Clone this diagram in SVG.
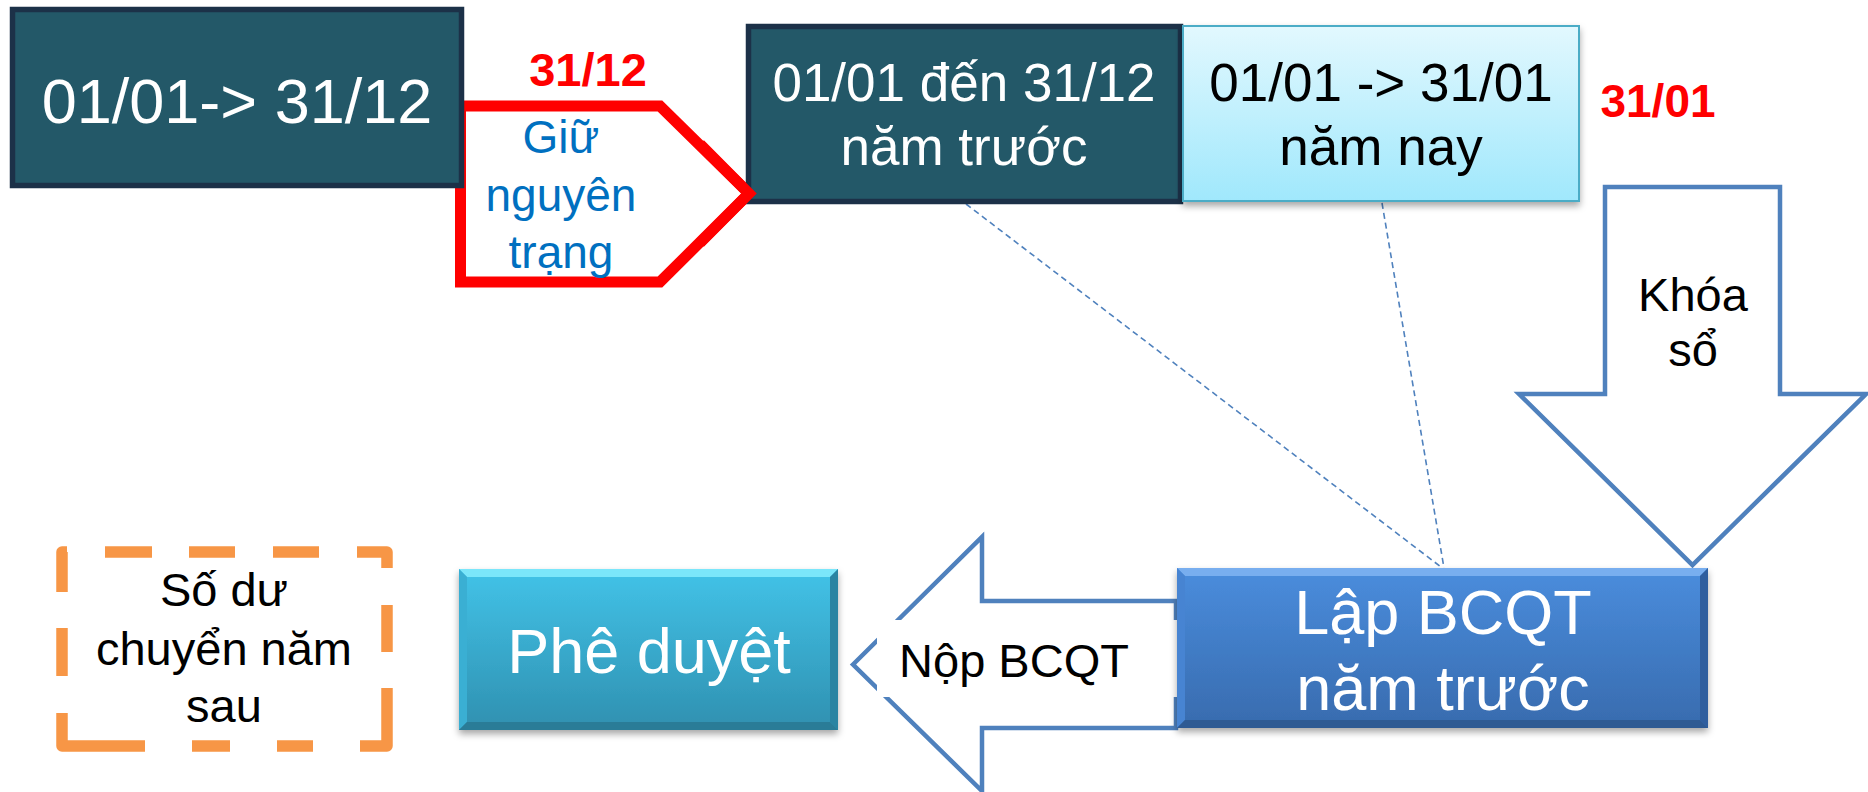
<svg xmlns="http://www.w3.org/2000/svg" width="1868" height="792" viewBox="0 0 1868 792">
  <defs>
    <linearGradient id="gCyanLight" x1="0" y1="0" x2="0" y2="1">
      <stop offset="0" stop-color="#E2F8FE"/>
      <stop offset="1" stop-color="#A0E8FC"/>
    </linearGradient>
    <linearGradient id="gTeal" x1="0" y1="0" x2="0" y2="1">
      <stop offset="0" stop-color="#42C3E8"/>
      <stop offset="1" stop-color="#2F90B0"/>
    </linearGradient>
    <linearGradient id="gBlue" x1="0" y1="0" x2="0" y2="1">
      <stop offset="0" stop-color="#4A8DDD"/>
      <stop offset="1" stop-color="#386BAE"/>
    </linearGradient>
    <filter id="shadow" x="-5%" y="-10%" width="110%" height="130%">
      <feDropShadow dx="0" dy="4" stdDeviation="3.5" flood-color="#000" flood-opacity="0.35"/>
    </filter>
  </defs>
  <style>
    text { font-family: "Liberation Sans", Arial, sans-serif; text-anchor: middle; }
    .dark { fill: #235868; stroke: #1C3148; stroke-width: 5.5; }
    .white { fill: #FFFFFF; }
    .black { fill: #000000; }
    .red { fill: #FF0000; font-weight: bold; }
    .blockArrow { fill: #FFFFFF; stroke: #4F81BD; stroke-width: 4.5; stroke-linejoin: miter; }
    .link { fill: none; stroke: #4F81BD; stroke-width: 1.6; stroke-dasharray: 6 4; }
  </style>

  <rect width="1868" height="792" fill="#FFFFFF"/>

  <!-- dashed guide lines into the report box -->
  <g id="connectors">
    <line class="link" x1="966" y1="204" x2="1441" y2="567"/>
    <line class="link" x1="1382" y1="203" x2="1444" y2="568"/>
  </g>

  <!-- "Keep as is" pentagon (drawn under box 1, over box 2) -->
  <g id="keep-state">
    <polygon points="460.5,106 660,106 749,193.5 660,282 460.5,282" fill="#FFFFFF" stroke="#FF0000" stroke-width="11" stroke-linejoin="miter"/>
    <text x="561" y="153" font-size="46" fill="#0070C0">Giữ</text>
    <text x="561" y="211" font-size="46" fill="#0070C0">nguyên</text>
    <text x="561" y="268" font-size="46" fill="#0070C0">trạng</text>
  </g>

  <g id="period-current">
    <rect class="dark" x="12.5" y="9.5" width="449" height="176"/>
    <text class="white" x="237" y="123" font-size="63">01/01-&gt; 31/12</text>
  </g>

  <text id="date-3112" class="red" x="588" y="86" font-size="47">31/12</text>

  <g id="period-prev">
    <rect class="dark" x="748.5" y="26.5" width="432" height="175"/>
    <text class="white" x="964" y="101" font-size="53">01/01 đến 31/12</text>
    <text class="white" x="964" y="165" font-size="53">năm trước</text>
  </g>

  <!-- redraw the pentagon tip over box 2 -->
  <g id="keep-state-tip">
    <polyline points="700,144 749,193.5 700,243" fill="none" stroke="#FF0000" stroke-width="11" stroke-linejoin="miter"/>
  </g>

  <g id="period-jan">
    <rect x="1183" y="26" width="396" height="175" fill="url(#gCyanLight)" stroke="#4BACC6" stroke-width="2" filter="url(#shadow)"/>
    <text class="black" x="1381" y="101" font-size="53">01/01 -&gt; 31/01</text>
    <text class="black" x="1381" y="165" font-size="53">năm nay</text>
  </g>

  <text id="date-3101" class="red" x="1658" y="117" font-size="46">31/01</text>

  <g id="close-books">
    <polygon class="blockArrow" points="1605,187 1780,187 1780,394 1866,394 1692.5,565 1519,394 1605,394"/>
    <text class="black" x="1693" y="311" font-size="47">Khóa</text>
    <text class="black" x="1693" y="366" font-size="47">sổ</text>
  </g>

  <g id="submit-report">
    <polygon class="blockArrow" points="853,664.5 982,537 982,601 1176,601 1176,728 982,728 982,791"/>
    <rect x="877" y="620" width="303" height="77" fill="#FFFFFF"/>
    <text class="black" x="1014" y="677" font-size="47">Nộp BCQT</text>
  </g>

  <g id="prepare-report">
    <g filter="url(#shadow)">
      <rect x="1177" y="568" width="531" height="160" fill="url(#gBlue)"/>
    </g>
    <polygon points="1177,568 1708,568 1700,576 1185,576" fill="#78AEEF"/>
    <polygon points="1177,568 1185,576 1185,720 1177,728" fill="#4784D2"/>
    <polygon points="1708,568 1708,728 1700,720 1700,576" fill="#2F5E9E"/>
    <polygon points="1177,728 1185,720 1700,720 1708,728" fill="#2E5A93"/>
    <text class="white" x="1443" y="634" font-size="63">Lập BCQT</text>
    <text class="white" x="1443" y="710" font-size="63">năm trước</text>
  </g>

  <g id="approve">
    <g filter="url(#shadow)">
      <rect x="459" y="569" width="379" height="161" fill="url(#gTeal)"/>
    </g>
    <polygon points="459,569 838,569 830,577 467,577" fill="#7BE6FA"/>
    <polygon points="459,569 467,577 467,722 459,730" fill="#3AAFD3"/>
    <polygon points="838,569 838,730 830,722 830,577" fill="#2A84A2"/>
    <polygon points="459,730 467,722 830,722 838,730" fill="#2A7C97"/>
    <text class="white" x="649" y="673" font-size="63">Phê duyệt</text>
  </g>

  <g id="carry-forward">
    <path d="M62,592 L62,552 L67,552 M105,552 L152,552 M189,552 L235,552 M273,552 L319,552 M357,552 L387,552 L387,568 M387,605 L387,652 M387,688 L387,746 L360,746 M313,746 L277,746 M230,746 L192,746 M145,746 L109,746 M109,746 L62,746 L62,713 M62,676 L62,628"
          fill="none" stroke="#F79646" stroke-width="11.5" stroke-linejoin="round"/>
    <text class="black" x="224" y="606" font-size="47">Số dư</text>
    <text class="black" x="224" y="665" font-size="47">chuyển năm</text>
    <text class="black" x="224" y="722" font-size="47">sau</text>
  </g>
</svg>
